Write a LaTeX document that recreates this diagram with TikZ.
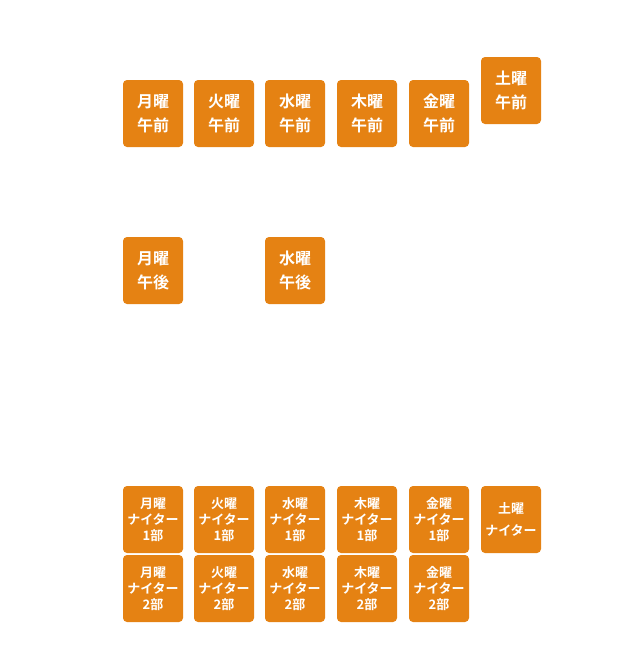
\documentclass[tikz,border=0pt]{standalone}
\usepackage{fontspec}
\setmainfont{Noto Sans CJK JP}[BoldFont={* Bold}]
\definecolor{slotorange}{RGB}{229,130,19}
\tikzstyle{slot}=[rectangle, rounded corners=4, fill=slotorange, text=white,
  minimum width=60, minimum height=67, inner sep=0, align=center]
\tikzstyle{daytext}=[slot, font=\fontsize{16}{24}\selectfont\bfseries]
\tikzstyle{nighttext}=[slot, font=\fontsize{13}{16}\selectfont\bfseries]
\tikzstyle{sattext}=[slot, font=\fontsize{13}{22}\selectfont\bfseries]

\begin{document}
\begin{tikzpicture}[x=1pt, y=-1pt]
  \useasboundingbox (0,0) rectangle (620,667);
  % mornings
  \node[daytext] (MonAM) at (153,113.5) {月曜\\午前};
  \node[daytext] (TueAM) at (224,113.5) {火曜\\午前};
  \node[daytext] (WedAM) at (295,113.5) {水曜\\午前};
  \node[daytext] (ThuAM) at (367,113.5) {木曜\\午前};
  \node[daytext] (FriAM) at (439,113.5) {金曜\\午前};
  \node[daytext] (SatAM) at (511,90.5) {土曜\\午前};
  % afternoons
  \node[daytext] (MonPM) at (153,270.5) {月曜\\午後};
  \node[daytext] (WedPM) at (295,270.5) {水曜\\午後};
  % nighters
  \node[nighttext] (MonN1) at (153,519.5) {月曜\\ナイター\\1部};
  \node[nighttext] (TueN1) at (224,519.5) {火曜\\ナイター\\1部};
  \node[nighttext] (WedN1) at (295,519.5) {水曜\\ナイター\\1部};
  \node[nighttext] (ThuN1) at (367,519.5) {木曜\\ナイター\\1部};
  \node[nighttext] (FriN1) at (439,519.5) {金曜\\ナイター\\1部};
  \node[sattext] (SatN) at (511,519.5) {土曜\\ナイター};
  \node[nighttext] (MonN2) at (153,588.5) {月曜\\ナイター\\2部};
  \node[nighttext] (TueN2) at (224,588.5) {火曜\\ナイター\\2部};
  \node[nighttext] (WedN2) at (295,588.5) {水曜\\ナイター\\2部};
  \node[nighttext] (ThuN2) at (367,588.5) {木曜\\ナイター\\2部};
  \node[nighttext] (FriN2) at (439,588.5) {金曜\\ナイター\\2部};
\end{tikzpicture}
\end{document}
